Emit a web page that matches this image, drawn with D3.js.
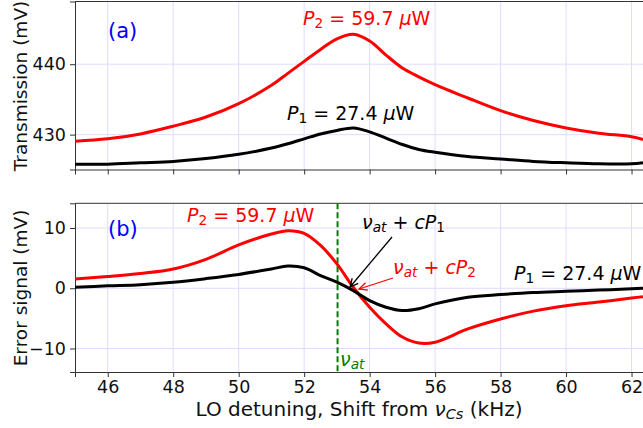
<!DOCTYPE html>
<html>
<head>
<script src="https://d3js.org/d3.v7.min.js"></script>
<title>LO detuning</title>
<style>
body { margin: 0; background: #fff; }
#root { width: 643px; height: 428px; display: block; font-family: "DejaVu Sans", sans-serif; }
.grid line { stroke: #dcdcff; stroke-width: 1; }
.axis path, .axis line { stroke: #333; }
.axis text { font-size: 17.5px; fill: #111; font-family: "DejaVu Sans", sans-serif; }
</style>
</head>
<body>
<svg id="root"></svg>
<script>
let detuning = [45, 46, 47, 48, 49, 50, 51, 51.5, 52, 52.5, 53, 53.5, 54, 54.5, 55, 55.5, 56, 57, 58, 59, 60, 61, 62, 62.35]

// panel (a) transmission (mV)
let transP1 = [425.8, 425.8, 426.0, 426.2, 426.6, 427.2, 428.1, 428.7, 429.4, 430.1, 430.6, 430.95, 430.4, 429.5, 428.6, 427.9, 427.5, 426.9, 426.55, 426.2, 426.0, 425.85, 425.85, 426.0]
let transP2 = [429.05, 429.4, 430.1, 431.2, 432.5, 434.4, 437.0, 438.7, 440.4, 442.1, 443.6, 444.25, 443.3, 441.3, 439.45, 438.2, 437.1, 435.2, 433.4, 432.0, 430.95, 430.2, 429.7, 429.3]

// panel (b) error signal (mV)
let errP1 = [0.17, 0.4, 0.6, 1.0, 1.6, 2.3, 3.2, 3.7, 3.4, 2.1, 1.0, -0.4, -2.05, -3.15, -3.7, -3.4, -2.6, -1.5, -1.05, -0.7, -0.5, -0.3, -0.1, 0.0]
let errP2 = [1.55, 1.95, 2.45, 3.2, 4.8, 7.2, 9.0, 9.55, 9.1, 7.1, 4.05, 0.17, -3.15, -5.9, -8.1, -9.1, -8.95, -6.75, -5.1, -3.8, -2.9, -2.3, -1.6, -1.4]

let xTicks = [46, 48, 50, 52, 54, 56, 58, 60, 62]
let yTicksA = [430, 440]
let yTicksB = [-10, 0, 10]
let nuAt = 53.02

let svg = d3.select('#root')
let left = 75, right = 643

let x = d3.scaleLinear().domain([45, 62.35]).range([left, right])
let yA = d3.scaleLinear().domain([425.05, 448.9]).range([169.5, 1.5])
let yB = d3.scaleLinear().domain([-13.9, 14.1]).range([372, 203.3])

svg.append('defs').append('clipPath').attr('id', 'clipA')
	.append('rect').attr('x', left).attr('y', 1.5).attr('width', right - left).attr('height', 168)
svg.select('defs').append('clipPath').attr('id', 'clipB')
	.append('rect').attr('x', left).attr('y', 203.3).attr('width', right - left).attr('height', 168.7)

function panel(y, yTicks, showLabels, clip)
{
	let top = y.range()[1], bottom = y.range()[0]
	let g = svg.append('g')

	// grid
	let grid = g.append('g').attr('class', 'grid')
	grid.selectAll('.vx').data(xTicks).enter().append('line')
		.attr('x1', d => x(d)).attr('x2', d => x(d)).attr('y1', top).attr('y2', bottom)
	grid.selectAll('.hy').data(yTicks).enter().append('line')
		.attr('x1', left).attr('x2', right).attr('y1', d => y(d)).attr('y2', d => y(d))

	let xAxis = d3.axisBottom(x).tickValues(xTicks).tickSizeOuter(0).tickSize(5).tickPadding(3.5)
	if (!showLabels) xAxis.tickFormat('')
	g.append('g').attr('class', 'axis').attr('transform', 'translate(0,' + bottom + ')').call(xAxis)

	let yAxis = d3.axisLeft(y).tickValues(yTicks).tickSizeOuter(0).tickSize(5).tickPadding(4)
		.tickFormat(d => d < 0 ? '\u2212' + Math.abs(d) : d)
	g.append('g').attr('class', 'axis').attr('transform', 'translate(' + left + ',0)').call(yAxis)

	// top spine
	g.append('line').attr('x1', left).attr('x2', right).attr('y1', top).attr('y2', top)
		.attr('stroke', '#333')

	return g.append('g').attr('clip-path', 'url(#' + clip + ')')
}

function drawLine(g, y, values, color)
{
	let line = d3.line().x((d, i) => x(detuning[i])).y(d => y(d)).curve(d3.curveCatmullRom.alpha(0.5))
	g.append('path').datum(values).attr('d', line)
		.attr('fill', 'none').attr('stroke', color).attr('stroke-width', 3)
}

let plotA = panel(yA, yTicksA, false, 'clipA')
drawLine(plotA, yA, transP2, '#ff0000')
drawLine(plotA, yA, transP1, '#000')

let plotB = panel(yB, yTicksB, true, 'clipB')
plotB.append('line').attr('x1', x(nuAt)).attr('x2', x(nuAt)).attr('y1', yB.range()[1]).attr('y2', yB.range()[0])
	.attr('stroke', '#008000').attr('stroke-width', 2).attr('stroke-dasharray', '6,3')
drawLine(plotB, yB, errP2, '#ff0000')
drawLine(plotB, yB, errP1, '#000')

// text helpers
function label(xp, yp, color, parts, size)
{
	size = size || 19
	let t = svg.append('text').attr('x', xp).attr('y', yp).attr('fill', color)
		.attr('font-size', size)
		.style('font-family', '"DejaVu Sans", sans-serif')
	parts.forEach(p => {
		let s = t.append('tspan').text(p[0])
		if (p[1] === 'i') s.attr('font-style', 'italic')
		if (p[1] === 'sub') s.attr('font-size', size * 0.72).attr('baseline-shift', '-22%')
		if (p[1] === 'isub') s.attr('font-size', size * 0.72).attr('baseline-shift', '-22%').attr('font-style', 'italic')
	})
	return t
}

label(108, 38, '#0000ff', [['(a)']], 21)
label(108, 236, '#0000ff', [['(b)']], 21)

label(303, 25, '#ff0000', [['P', 'i'], ['2', 'sub'], [' = 59.7 '], ['\u03bc', 'i'], ['W']])
label(287, 120, '#000', [['P', 'i'], ['1', 'sub'], [' = 27.4 '], ['\u03bc', 'i'], ['W']])

label(187, 222, '#ff0000', [['P', 'i'], ['2', 'sub'], [' = 59.7 '], ['\u03bc', 'i'], ['W']])
label(514, 280, '#000', [['P', 'i'], ['1', 'sub'], [' = 27.4 '], ['\u03bc', 'i'], ['W']])

label(362, 229, '#000', [['\u03bd', 'i'], ['at', 'isub'], [' + '], ['cP', 'i'], ['1', 'sub']])
label(393, 274, '#ff0000', [['\u03bd', 'i'], ['at', 'isub'], [' + '], ['cP', 'i'], ['2', 'sub']])
label(340, 366, '#008000', [['\u03bd', 'i'], ['at', 'isub']])

// arrows
function arrow(x1, y1, x2, y2, color)
{
	svg.append('line').attr('x1', x1).attr('y1', y1).attr('x2', x2).attr('y2', y2)
		.attr('stroke', color).attr('stroke-width', 1.3)
	let a = Math.atan2(y2 - y1, x2 - x1), len = 9, w = 0.45
	let p = [[x2 - len * Math.cos(a - w), y2 - len * Math.sin(a - w)], [x2, y2], [x2 - len * Math.cos(a + w), y2 - len * Math.sin(a + w)]]
	svg.append('path').attr('d', d3.line()(p)).attr('fill', 'none').attr('stroke', color).attr('stroke-width', 1.3)
}
arrow(392, 237, 350, 287, '#000')
arrow(393, 278, 359, 289, '#ff0000')

// axis titles
svg.append('text').attr('transform', 'translate(27,86) rotate(-90)').attr('text-anchor', 'middle')
	.attr('font-size', 18.5).attr('fill', '#111').text('Transmission (mV)')
svg.append('text').attr('transform', 'translate(27,288) rotate(-90)').attr('text-anchor', 'middle')
	.attr('font-size', 18.5).attr('fill', '#111').text('Error signal (mV)')

let xl = svg.append('text').attr('x', 359).attr('y', 416).attr('text-anchor', 'middle')
	.attr('font-size', 20).attr('fill', '#111')
xl.append('tspan').text('LO detuning, Shift from ')
xl.append('tspan').attr('font-style', 'italic').text('\u03bd')
xl.append('tspan').attr('font-style', 'italic').attr('font-size', 14.5).attr('baseline-shift', '-22%').text('Cs')
xl.append('tspan').text(' (kHz)')
</script>
</body>
</html>
